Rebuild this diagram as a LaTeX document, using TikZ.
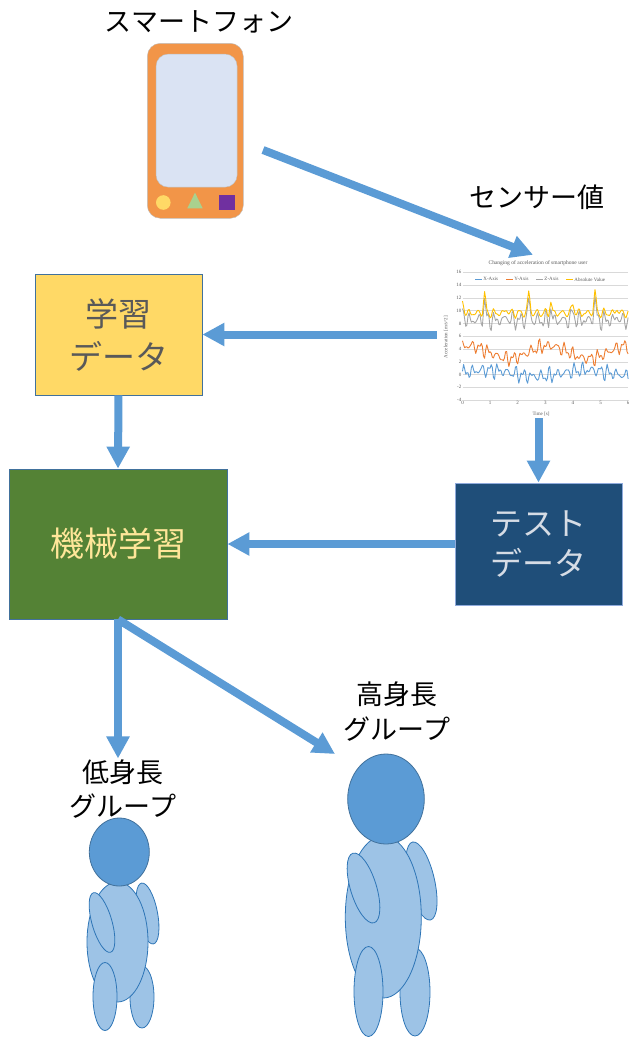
\documentclass[tikz,border=0pt]{standalone}
\usepackage{fontspec}
\setmainfont{Liberation Serif}
\newfontfamily\jp{Noto Sans CJK JP}
\usetikzlibrary{arrows.meta}

\definecolor{flowblue}{HTML}{5B9BD5}
\definecolor{phoneorange}{HTML}{F29548}
\definecolor{screenblue}{HTML}{DAE3F3}
\definecolor{edgegray}{HTML}{C0C0C0}
\definecolor{dotyellow}{HTML}{FFD966}
\definecolor{triggreen}{HTML}{A9D18E}
\definecolor{sqpurple}{HTML}{7030A0}
\definecolor{trainfill}{HTML}{FFD966}
\definecolor{traintext}{HTML}{595959}
\definecolor{boxedge}{HTML}{41719C}
\definecolor{mlfill}{HTML}{548235}
\definecolor{mltext}{HTML}{FFE699}
\definecolor{testfill}{HTML}{1F4E79}
\definecolor{testtext}{HTML}{D6DCE5}
\definecolor{testedge}{HTML}{8FAADC}
\definecolor{headfill}{HTML}{5B9BD5}
\definecolor{bodyfill}{HTML}{9DC3E6}
\definecolor{bodyedge}{HTML}{2E75B6}
\definecolor{gridgray}{HTML}{D9D9D9}
\definecolor{lblgray}{HTML}{595959}
\definecolor{serx}{HTML}{5B9BD5}
\definecolor{sery}{HTML}{ED7D31}
\definecolor{serz}{HTML}{A5A5A5}
\definecolor{serabs}{HTML}{FFC000}

\begin{document}
\begin{tikzpicture}[x=1pt, y=-1pt,
    flow/.style={draw=flowblue, line width=8pt, -{Triangle[length=22pt,width=22pt]}},
    box/.style={draw=boxedge, line width=0.8pt, inner sep=0pt, align=center},
    jplbl/.style={font=\jp\fontsize{27}{35}\selectfont, align=center, inner sep=1pt},
    chartlbl/.style={font=\fontsize{5}{6}\selectfont, text=lblgray, inner sep=1pt},
    series/.style={line width=0.9pt, line join=round},
    head/.style={fill=headfill, draw=boxedge, line width=0.8pt},
    limb/.style={fill=bodyfill, draw=bodyedge, line width=0.8pt},
    declare function={nz(\s)=0.5*sin(47*\s)+0.3*sin(83*\s+40)+0.25*sin(97*\s+10)+0.2*sin(61*\s);
                      spk(\s)=max(0,cos(18*\s))^10*(0.6+0.4*sin(7*\s));}]
\useasboundingbox (0,0) rectangle (629,1037);

% smartphone
\node[jplbl] (phonelbl) at (199,22) {スマートフォン};
\node[fill=phoneorange, draw=edgegray, rounded corners=13pt, minimum width=96pt, minimum height=175pt] (phone) at (195.3,130.8) {};
\node[fill=screenblue, draw=edgegray, rounded corners=12pt, minimum width=81pt, minimum height=133pt] (screen) at (196.6,120.6) {};
\fill[dotyellow] (163.3,202.5) circle (7.3);
\fill[triggreen] (187.3,208.3) -- (202.7,208.3) -- (195,192.7) -- cycle;
\fill[sqpurple] (219,195) rectangle (235,210);

% sensor chart
\node[jplbl] (sensorlbl) at (537,197) {センサー値};
\node[minimum width=192pt, minimum height=163pt, inner sep=0pt] (chart) at (533,336.5) {};
\node[chartlbl, font=\fontsize{5.5}{6}\selectfont] (ctitle) at (538,263.3) {Changing of acceleration of smartphone user};
\begin{scope}[shift={(462.5,374.5)}, x=27.6pt, y=6.39pt]
  \foreach \v in {-4,-2,...,16} {
    \draw[gridgray, line width=0.4pt] (0,\v) -- (6,\v);
    \node[chartlbl, left] (ytick\v) at (0,\v) {\v};
  }
  \foreach \t in {0,...,6}
    \node[chartlbl, below] (xtick\t) at (\t,-4) {\t};
  \draw[series, serx] plot[domain=0:150, samples=151, variable=\s] ({\s/25}, {0.2+1.3*nz(\s)+0.5*sin(4*\s)});
  \draw[series, sery] plot[domain=0:150, samples=151, variable=\s] ({\s/25}, {3.5+1.2*nz(\s+9)+1.0*sin(5*\s+60)});
  \draw[series, serz] plot[domain=0:150, samples=151, variable=\s] ({\s/25}, {8.5+1.5*nz(\s+3)+3.5*spk(\s)});
  \draw[series, serabs] plot[domain=0:150, samples=151, variable=\s] ({\s/25}, {9.6+0.9*nz(\s+3)+0.5*nz(\s+5)+3.5*spk(\s)});
\end{scope}
\foreach \c/\xx/\lab in {serx/475/X-Axis, sery/506/Y-Axis, serz/536/Z-Axis, serabs/566/Absolute Value}
  \draw[series, \c] (\xx,279.3) -- ++(7,0) node[chartlbl, right] (leg\c) {\lab};
\node[chartlbl, rotate=90] (ylab) at (446,337) {Acceleration [m/s\textasciicircum 2]};
\node[chartlbl] (tlab) at (541,414) {Time [s]};

% data and learning boxes
\node[box, fill=trainfill, text=traintext, minimum width=167pt, minimum height=121pt,
      font=\jp\fontsize{33}{43}\selectfont] (train) at (118.5,334.5) {学習\\データ};
\node[box, fill=mlfill, text=mltext, minimum width=218pt, minimum height=150pt,
      font=\jp\fontsize{34}{43}\selectfont] (ml) at (118,544) {機械学習};
\node[box, draw=testedge, fill=testfill, text=testtext, minimum width=167pt, minimum height=122pt,
      font=\jp\fontsize{32}{40}\selectfont] (test) at (538.5,544) {テスト\\データ};

\node[jplbl, font=\jp\fontsize{27}{34}\selectfont] (shortlbl) at (123,789) {低身長\\グループ};
\node[jplbl, font=\jp\fontsize{27}{35}\selectfont] (talllbl) at (397,712) {高身長\\グループ};

\coordinate (phonetail) at (263,150);
\coordinate (tallin) at (335,754);
\draw[flow] (phonetail) -- (chart.north);
\draw[flow] (chart.west |- train.east) -- (train.east);
\draw[flow] (test.north |- chart.south) -- (test.north);
\draw[flow] (train.south) -- (ml.north);
\draw[flow] (test.west) -- (ml.east);
\draw[flow] (ml.south) -- (ml.south |- shortlbl.north);
\draw[flow] (ml.south) -- (tallin);

% short person
\draw[limb] (147.5,913.5) ellipse [x radius=10, y radius=31, rotate=11];
\draw[limb] (142,997) ellipse [x radius=12, y radius=31];
\draw[limb] (117.5,942) ellipse [x radius=30.5, y radius=60];
\draw[limb] (102,922.5) ellipse [x radius=10, y radius=31, rotate=16];
\draw[limb] (105,996.5) ellipse [x radius=12, y radius=34];
\draw[head] (119.3,852) ellipse [x radius=30, y radius=34];

% tall person
\draw[limb] (421.5,881) ellipse [x radius=13, y radius=40, rotate=13];
\draw[limb] (415,992) ellipse [x radius=15, y radius=44];
\draw[limb] (383.3,917) ellipse [x radius=38, y radius=81];
\draw[limb] (363.5,888) ellipse [x radius=13, y radius=36.4, rotate=17];
\draw[limb] (368.5,991.5) ellipse [x radius=14.5, y radius=45];
\draw[head] (386,799) ellipse [x radius=38.3, y radius=45];
\end{tikzpicture}
\end{document}
